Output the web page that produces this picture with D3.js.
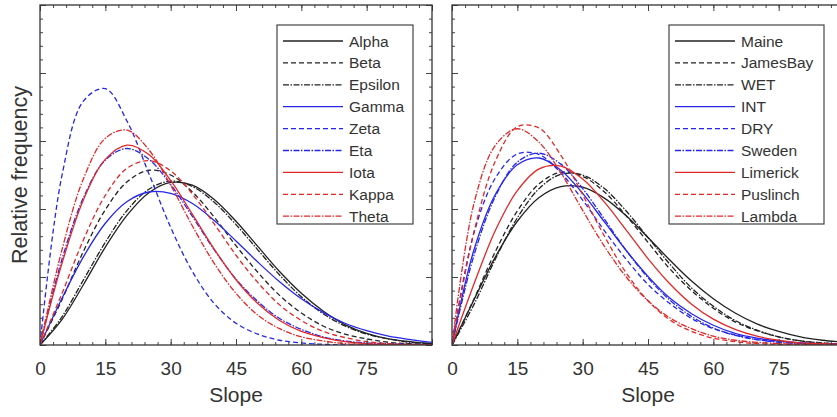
<!DOCTYPE html>
<html>
<head>
<meta charset="utf-8">
<script src="https://cdn.jsdelivr.net/npm/d3@7"></script>
<style>
  body { margin: 0; background: #fff; }
  text { font-family: "Liberation Sans", Arial, sans-serif; fill: #333; }
</style>
</head>
<body>
<div id="visContainer"></div>
<script>
'use strict';

var slope = [0, 5, 10, 15, 20, 25, 30, 35, 40, 45, 50, 55, 60, 65, 70, 75, 80, 85, 90];
var xTickLabels = [0, 15, 30, 45, 60, 75];

// left panel (relative frequency, %)
var leftNames = ["Alpha", "Beta", "Epsilon", "Gamma", "Zeta", "Eta", "Iota", "Kappa", "Theta"];
var alpha   = [0, 0.37, 0.89, 1.44, 1.91, 2.24, 2.39, 2.35, 2.14, 1.82, 1.45, 1.08, 0.76, 0.50, 0.30, 0.17, 0.09, 0.05, 0.02];
var beta    = [0, 0.66, 1.38, 1.99, 2.40, 2.57, 2.50, 2.25, 1.88, 1.46, 1.07, 0.73, 0.47, 0.28, 0.16, 0.09, 0.04, 0.02, 0.01];
var epsilon = [0, 0.41, 0.96, 1.51, 1.98, 2.29, 2.41, 2.33, 2.10, 1.77, 1.40, 1.03, 0.71, 0.46, 0.28, 0.16, 0.09, 0.04, 0.02];
var gamma   = [0, 0.68, 1.30, 1.79, 2.11, 2.25, 2.23, 2.08, 1.83, 1.53, 1.22, 0.93, 0.68, 0.48, 0.32, 0.21, 0.13, 0.08, 0.04];
var zeta    = [0, 2.48, 3.59, 3.77, 3.29, 2.52, 1.73, 1.08, 0.61, 0.32, 0.16, 0.07, 0.03, 0.01, 0, 0, 0, 0, 0];
var eta     = [0, 1.25, 2.17, 2.72, 2.89, 2.73, 2.36, 1.89, 1.40, 0.97, 0.64, 0.39, 0.23, 0.12, 0.06, 0.03, 0.02, 0.01, 0];
var iota    = [0, 1.19, 2.14, 2.73, 2.94, 2.80, 2.42, 1.92, 1.41, 0.96, 0.61, 0.36, 0.20, 0.11, 0.05, 0.02, 0.01, 0, 0];
var kappa   = [0, 0.75, 1.55, 2.20, 2.60, 2.71, 2.56, 2.22, 1.78, 1.32, 0.92, 0.59, 0.36, 0.20, 0.11, 0.05, 0.02, 0.01, 0];
var theta   = [0, 1.39, 2.45, 3.04, 3.16, 2.87, 2.35, 1.75, 1.20, 0.76, 0.44, 0.24, 0.12, 0.06, 0.02, 0.01, 0, 0, 0];

// right panel
var rightNames = ["Maine", "JamesBay", "WET", "INT", "DRY", "Sweden", "Limerick", "Puslinch", "Lambda"];
var maine    = [0, 0.66, 1.30, 1.82, 2.17, 2.33, 2.32, 2.16, 1.90, 1.58, 1.25, 0.94, 0.68, 0.47, 0.31, 0.20, 0.12, 0.07, 0.04];
var jamesBay = [0, 0.67, 1.38, 1.97, 2.37, 2.54, 2.48, 2.25, 1.90, 1.51, 1.12, 0.80, 0.54, 0.34, 0.21, 0.12, 0.06, 0.03, 0.01];
var wet      = [0, 0.59, 1.27, 1.87, 2.30, 2.51, 2.50, 2.30, 1.97, 1.58, 1.19, 0.84, 0.57, 0.36, 0.22, 0.12, 0.06, 0.03, 0.01];
var intSite  = [0, 1.39, 2.22, 2.65, 2.75, 2.57, 2.23, 1.81, 1.39, 1.01, 0.69, 0.46, 0.29, 0.17, 0.10, 0.06, 0.03, 0.02, 0.01];
var dry      = [0, 1.64, 2.46, 2.81, 2.80, 2.53, 2.13, 1.68, 1.26, 0.89, 0.61, 0.39, 0.24, 0.15, 0.08, 0.05, 0.03, 0.01, 0.01];
var sweden   = [0, 1.31, 2.19, 2.69, 2.82, 2.66, 2.30, 1.85, 1.39, 0.99, 0.66, 0.42, 0.25, 0.14, 0.08, 0.04, 0.02, 0.01, 0];
var limerick = [0, 0.89, 1.69, 2.27, 2.59, 2.63, 2.44, 2.10, 1.69, 1.27, 0.90, 0.60, 0.38, 0.23, 0.13, 0.07, 0.03, 0.02, 0.01];
var puslinch = [0, 1.65, 2.71, 3.21, 3.19, 2.79, 2.21, 1.60, 1.06, 0.65, 0.37, 0.20, 0.10, 0.05, 0.02, 0.01, 0, 0, 0];
var lambda   = [0, 2.07, 2.94, 3.18, 2.98, 2.53, 1.98, 1.45, 1.00, 0.65, 0.40, 0.24, 0.13, 0.07, 0.04, 0.02, 0.01, 0, 0];

var leftSeries = [alpha, beta, epsilon, gamma, zeta, eta, iota, kappa, theta];
var rightSeries = [maine, jamesBay, wet, intSite, dry, sweden, limerick, puslinch, lambda];

// styles by position: black, blue, red x solid, dashed, dash-dot
var colors = ["#222", "#222", "#222", "#2626e8", "#2626e8", "#2626e8", "#e02828", "#e02828", "#e02828"];
var dashes = [null, "5,3", "6,1.5,1.5,1.5"];

var width = 837, height = 417;
var plotTop = 5, plotBottom = 345, panelW = 392;

var svg = d3.select('#visContainer').append('svg')
    .attr('width', width)
    .attr('height', height);

function drawPanel(x0, names, series, legendX, legendW){
    var x = d3.scaleLinear().domain([0, 90]).range([x0, x0 + panelW]);
    var y = d3.scaleLinear().domain([0, 5]).range([plotBottom, plotTop]);
    var g = svg.append('g');

    var clipId = 'clip' + x0;
    svg.append('clipPath').attr('id', clipId)
      .append('rect').attr('x', x0).attr('y', plotTop).attr('width', panelW).attr('height', plotBottom - plotTop);

    // curves
    var line = d3.line()
        .x(function(d, i){ return x(slope[i]); })
        .y(function(d){ return y(d); })
        .curve(d3.curveCatmullRom.alpha(0.5));
    var curves = g.append('g').attr('clip-path', 'url(#' + clipId + ')');
    for(var i = 0; i < series.length; i++){
        curves.append('path')
            .attr('d', line(series[i]))
            .attr('fill', 'none')
            .attr('stroke', colors[i])
            .attr('stroke-width', 1.3)
            .attr('stroke-dasharray', dashes[i % 3]);
    }

    // axes with inward ticks, major and minor
    var minorX = d3.range(0, 91, 3), majorX = d3.range(0, 91, 15);
    var minorY = d3.range(0, 5.01, 0.2), majorY = d3.range(0, 5.01, 1);
    function addAxis(axis, tx, ty){
        var a = g.append('g').attr('transform', 'translate(' + tx + ',' + ty + ')').call(axis);
        a.select('.domain').remove();
        a.selectAll('line').attr('stroke', '#444');
        return a;
    }
    addAxis(d3.axisBottom(x).tickValues(minorX).tickSize(-3).tickFormat(''), 0, plotBottom);
    addAxis(d3.axisBottom(x).tickValues(majorX).tickSize(-6).tickFormat(''), 0, plotBottom);
    addAxis(d3.axisTop(x).tickValues(minorX).tickSize(-3).tickFormat(''), 0, plotTop);
    addAxis(d3.axisTop(x).tickValues(majorX).tickSize(-6).tickFormat(''), 0, plotTop);
    addAxis(d3.axisLeft(y).tickValues(minorY).tickSize(-3).tickFormat(''), x0, 0);
    addAxis(d3.axisLeft(y).tickValues(majorY).tickSize(-6).tickFormat(''), x0, 0);
    addAxis(d3.axisRight(y).tickValues(minorY).tickSize(-3).tickFormat(''), x0 + panelW, 0);
    addAxis(d3.axisRight(y).tickValues(majorY).tickSize(-6).tickFormat(''), x0 + panelW, 0);

    // tick labels
    var lab = addAxis(d3.axisBottom(x).tickValues(xTickLabels).tickSize(0).tickPadding(0).tickFormat(d3.format('d')), 0, plotBottom);
    lab.selectAll('text')
        .attr('y', 29.5)
        .attr('dy', null)
        .style('font-size', '19px')
        .style('font-family', '"Liberation Sans", Arial, sans-serif')
        .attr('fill', '#333');

    // frame
    g.append('rect')
        .attr('x', x0).attr('y', plotTop)
        .attr('width', panelW).attr('height', plotBottom - plotTop)
        .attr('fill', 'none')
        .attr('stroke', '#333')
        .attr('stroke-width', 1.3);

    g.append('text')
        .attr('x', x0 + panelW / 2)
        .attr('y', 402)
        .attr('text-anchor', 'middle')
        .style('font-size', '21px')
        .text('Slope');

    // legend
    var lg = g.append('g');
    lg.append('rect')
        .attr('x', legendX).attr('y', 25)
        .attr('width', legendW).attr('height', 199)
        .attr('fill', '#fff')
        .attr('stroke', '#444')
        .attr('stroke-width', 1.2);
    for(var j = 0; j < names.length; j++){
        var ly = 41 + j * 21.9;
        lg.append('line')
            .attr('x1', legendX + 6).attr('x2', legendX + 66)
            .attr('y1', ly).attr('y2', ly)
            .attr('stroke', colors[j])
            .attr('stroke-width', 1.3)
            .attr('stroke-dasharray', dashes[j % 3]);
        lg.append('text')
            .attr('x', legendX + 72)
            .attr('y', ly + 5.5)
            .style('font-size', '15.5px')
            .text(names[j]);
    }
}

drawPanel(40, leftNames, leftSeries, 277, 136);
drawPanel(452, rightNames, rightSeries, 669, 155);

svg.append('text')
    .attr('transform', 'translate(27,175) rotate(-90)')
    .attr('text-anchor', 'middle')
    .style('font-size', '21.5px')
    .text('Relative frequency');
</script>
</body>
</html>
